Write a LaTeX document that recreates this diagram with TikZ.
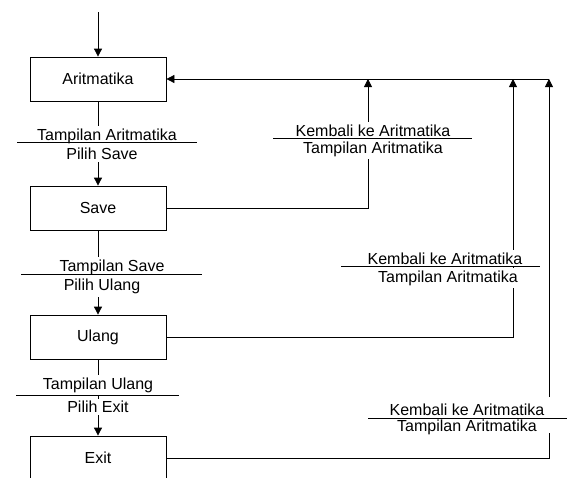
\documentclass[tikz,border=0pt]{standalone}
\usepackage{fontspec}
\setmainfont{Liberation Sans}
\usetikzlibrary{positioning}
\usetikzlibrary{arrows.meta}
\tikzset{
	kotak/.style={draw,minimum width=136pt,minimum height=44pt,inner sep=0pt,anchor=center},
	teks/.style={anchor=base,fill=white,inner sep=2.5pt},
	panah/.style={-{Triangle[length=8pt,width=8pt]}},
}

\begin{document}
\begin{tikzpicture}[x=1pt,y=-1pt,line width=0.8pt,font=\fontsize{16}{19}\selectfont]
	\clip (0,0) rectangle (578,477);
	
	% boxes.....................
	\node [kotak] (arit) at (98,79) {Aritmatika};
	\node [kotak] (save) at (98,208) {Save};
	\node [kotak] (ulang) at (98,337) {Ulang};
	\node [kotak] (exit) at (98,458) {Exit};
	
	% bends of the lines back..........
	\coordinate (mulai) at (98,12);
	\coordinate (b1) at (368,79);
	\coordinate (b2) at (513,79);
	\coordinate (b3) at (549,79);
	\coordinate (b3bawah) at (549,433);
	\coordinate (b3atas) at (549,397);
	
	% down the left.....................
	\draw [panah] (mulai) -- (arit);
	\draw [panah] (arit) -- (save);
	\draw [panah] (save) -- (ulang);
	\draw [panah] (ulang) -- (exit);
	
	% back to Aritmatika...................
	\draw [panah] (b3) -- (arit);
	\draw [panah] (save) -| (b1);
	\draw [panah] (ulang) -| (b2);
	\draw (exit) -| (b3bawah);
	\draw [panah] (b3atas) -- (b3);
	
	% labels left..............................
	\node [teks] (ta1) at (107,140) {Tampilan Aritmatika};
	\node [teks] (ps) at (102,159) {Pilih Save};
	\draw (17,142) to (197,142);
	
	\node [teks] (tsv) at (112,271) {Tampilan Save};
	\node [teks] (pu) at (102,290.7) {Pilih Ulang};
	\draw (21,274) to (202,274);
	
	\node [teks] (tu) at (98,389.3) {Tampilan Ulang};
	\node [teks] (pe) at (98,412.7) {Pilih Exit};
	\draw (16,395.7) to (179,395.7);
	
	% labels right..............................
	\node [teks] (k1) at (373,136) {Kembali ke Aritmatika};
	\node [teks] (ta2) at (373,153.3) {Tampilan Aritmatika};
	\draw (273,138.7) to (472,138.7);
	
	\node [teks] (k2) at (445,264.3) {Kembali ke Aritmatika};
	\node [teks] (ta3) at (448,282.3) {Tampilan Aritmatika};
	\draw (341,266.7) to (540,266.7);
	
	\node [teks] (k3) at (467,415) {Kembali ke Aritmatika};
	\node [teks] (ta4) at (467,431.7) {Tampilan Aritmatika};
	\draw (368,418.3) to (567,418.3);
\end{tikzpicture}
\end{document}
